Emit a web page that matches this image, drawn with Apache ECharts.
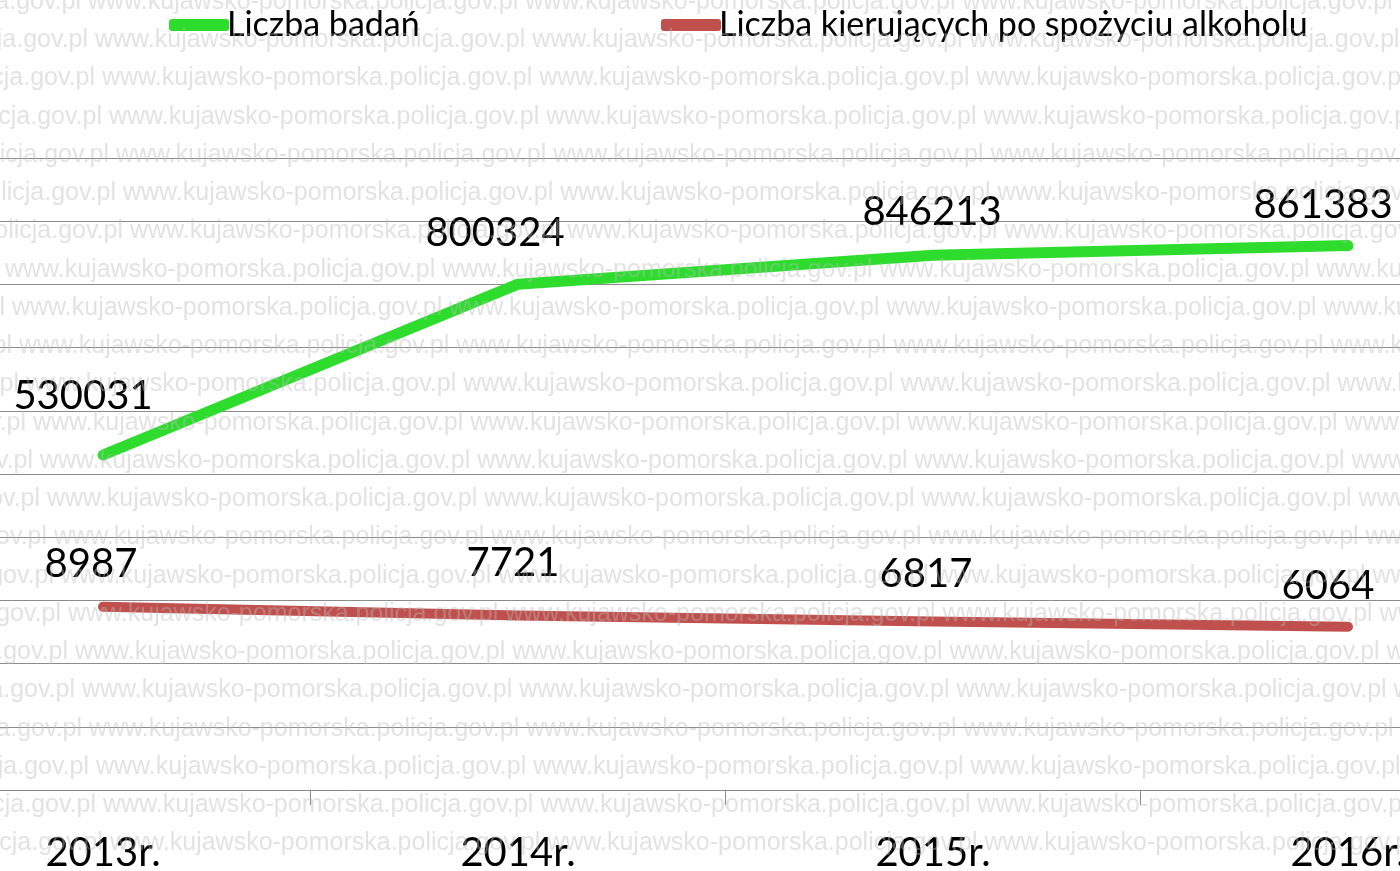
<!DOCTYPE html>
<html>
<head>
<meta charset="utf-8">
<script src="https://cdn.jsdelivr.net/npm/echarts@6/dist/echarts.min.js"></script>
<style>
  html, body { margin: 0; padding: 0; background: #ffffff; }
  #chart { width: 1400px; height: 871px; }
</style>
</head>
<body>
<div id="chart"></div>
<script>
// Yearly figures: breath tests performed and drivers found after drinking
const categories = ['2013r.', '2014r.', '2015r.', '2016r.'];
const testsCount = [530031, 800324, 846213, 861383];
const drunkDrivers = [8987, 7721, 6817, 6064];
const seriesNames = ['Liczba badań', 'Liczba kierujących po spożyciu alkoholu'];
const watermarkText = 'www.kujawsko-pomorska.policja.gov.pl ';

// Label placement around each point (pixels relative to the point)
const testsLabelOffsets = [[-20, -59], [-23, -51], [-1, -43], [-25, -41]];
const driversLabelOffsets = [[-12, -43], [-5, -52], [-7, -48], [-20, -41]];

const FONT = 'Lato, "Open Sans", sans-serif';
const chart = echarts.init(document.getElementById('chart'), null, { renderer: 'canvas' });

// Repeated site watermark drawn over the plot
const wmFont = '25px "Liberation Sans", Arial, sans-serif';
const ctx = document.createElement('canvas').getContext('2d');
ctx.font = wmFont;
const period = ctx.measureText(watermarkText).width;
const watermark = [];
for (let r = 0; r < 23; r++) {
  const wwwX = r <= 6 ? 88 + 7 * r : 5 + 7 * (r - 7);
  watermark.push({
    type: 'text',
    silent: true,
    z: 100,
    x: wwwX - period,
    y: 2 + 38.25 * r,
    style: {
      text: watermarkText.repeat(5),
      font: wmFont,
      fill: 'rgba(185,185,185,0.42)',
      verticalAlign: 'middle',
      textVerticalAlign: 'middle'
    }
  });
}

function labelled(values, offsets) {
  return values.map((v, i) => ({ value: v, label: { offset: offsets[i] } }));
}

const legendBase = {
  top: 3,
  icon: 'roundRect',
  itemWidth: 60,
  itemHeight: 12,
  itemGap: 0,
  selectedMode: false,
  textStyle: { fontFamily: FONT, fontSize: 34, color: '#000', padding: [0, 0, 0, -7] }
};

const labelStyle = { show: true, position: 'inside', fontFamily: FONT, fontSize: 40, color: '#000' };

chart.setOption({
  backgroundColor: '#ffffff',
  animation: false,
  legend: [
    Object.assign({}, legendBase, { data: [seriesNames[0]], left: 164 }),
    Object.assign({}, legendBase, { data: [seriesNames[1]], left: 656 })
  ],
  grid: { left: -104.5, right: -155.5, top: 158, bottom: 81, containLabel: false, outerBoundsMode: 'none' },
  xAxis: {
    type: 'category',
    data: categories,
    boundaryGap: true,
    axisLine: { lineStyle: { color: '#8a8a8a', width: 1 } },
    axisTick: { show: true, length: 15, lineStyle: { color: '#8a8a8a' } },
    axisLabel: { fontFamily: FONT, fontSize: 40, color: '#000', margin: 43 }
  },
  yAxis: [
    {
      type: 'value',
      min: 0,
      max: 1000000,
      interval: 100000,
      axisLine: { show: false },
      axisTick: { show: false },
      axisLabel: { show: false },
      splitLine: { lineStyle: { color: '#8c8c8c', width: 1 } }
    },
    {
      type: 'value',
      min: -17800,
      max: 74600,
      axisLine: { show: false },
      axisTick: { show: false },
      axisLabel: { show: false },
      splitLine: { show: false }
    }
  ],
  series: [
    {
      name: seriesNames[0],
      type: 'line',
      yAxisIndex: 0,
      data: labelled(testsCount, testsLabelOffsets),
      symbol: 'circle',
      symbolSize: 2,
      showSymbol: true,
      color: '#2edc2e',
      lineStyle: { width: 11, cap: 'round', join: 'round' },
      label: labelStyle,
      z: 3
    },
    {
      name: seriesNames[1],
      type: 'line',
      yAxisIndex: 1,
      data: labelled(drunkDrivers, driversLabelOffsets),
      symbol: 'circle',
      symbolSize: 2,
      showSymbol: true,
      color: '#c0504d',
      lineStyle: { width: 10, cap: 'round', join: 'round' },
      label: labelStyle,
      z: 2
    }
  ],
  graphic: watermark
});
</script>
</body>
</html>
